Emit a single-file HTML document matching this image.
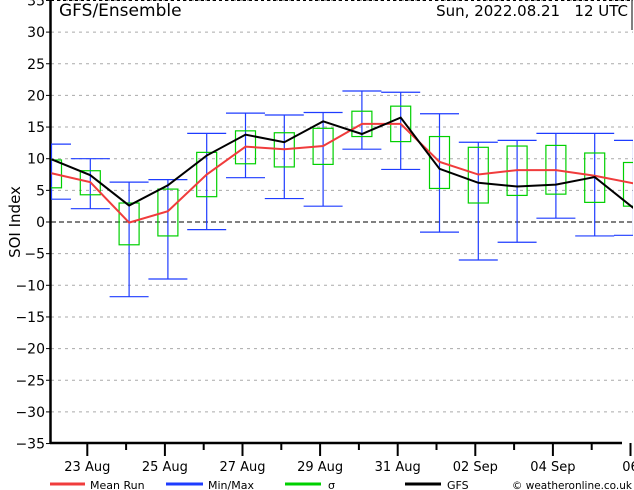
<!DOCTYPE html>
<html><head><meta charset="utf-8"><style>
body{margin:0;background:#fff}
svg{display:block;font-family:"DejaVu Sans","Liberation Sans",sans-serif}
</style></head><body>
<svg id="chart" width="634" height="490" viewBox="0 0 634 490" xmlns="http://www.w3.org/2000/svg">
<defs><clipPath id="plotclip"><rect x="51" y="0" width="582" height="443"/></clipPath></defs>
<g id="grid"></g>
<g id="yaxis"></g>
<g id="xaxis"></g>
<g id="series" clip-path="url(#plotclip)"></g>
<text x="59" y="16" font-size="17">GFS/Ensemble</text>
<text x="628" y="16" font-size="15" text-anchor="end" style="white-space:pre">Sun, 2022.08.21   12 UTC</text>
<text transform="translate(20,222) rotate(-90)" font-size="15" text-anchor="middle">SOI Index</text>
<g font-size="11">
<g><line x1="50" y1="484" x2="85" y2="484" stroke="#f03c3c" stroke-width="3"/><text x="90" y="489">Mean Run</text></g>
<g><line x1="166" y1="484" x2="203" y2="484" stroke="#1e3cff" stroke-width="3"/><text x="208" y="489">Min/Max</text></g>
<g><line x1="285" y1="484" x2="321" y2="484" stroke="#00d000" stroke-width="3"/><text x="328" y="489">σ</text></g>
<g><line x1="405" y1="484" x2="441" y2="484" stroke="#000" stroke-width="3"/><text x="447" y="489">GFS</text></g>
<text x="632" y="489" text-anchor="end" font-size="10.5">© weatheronline.co.uk</text>
</g>
</svg>
<script>
const mins=[3.6,2.1,-11.8,-9.0,-1.2,7.0,3.7,2.5,11.5,8.3,-1.6,-6.0,-3.2,0.6,-2.2,-2.1];
const maxs=[12.3,10.0,6.3,6.7,14.0,17.2,16.9,17.3,20.7,20.5,17.1,12.6,12.9,14.0,14.0,12.9];
const sigHi=[9.8,8.1,3.0,5.2,11.0,14.4,14.1,14.8,17.5,18.3,13.5,11.8,12.0,12.1,10.9,9.4];
const sigLo=[5.4,4.3,-3.6,-2.2,4.0,9.2,8.7,9.1,13.5,12.7,5.3,3.0,4.2,4.4,3.1,2.5];
const meanRun=[7.7,6.3,-0.1,1.7,7.5,11.9,11.5,12.0,15.5,15.5,9.5,7.5,8.2,8.2,7.3,6.1];
const gfs=[9.9,7.4,2.6,5.8,10.5,13.8,12.6,15.9,13.9,16.5,8.4,6.2,5.6,5.9,7.1,2.2];
const yTicks=[-35,-30,-25,-20,-15,-10,-5,0,5,10,15,20,25,30,35];
const xLabels=["23 Aug","25 Aug","27 Aug","29 Aug","31 Aug","02 Sep","04 Sep","06"];
const NS="http://www.w3.org/2000/svg";
const X=i=>51.5+38.8*i;
const Y=v=>222-v*6.33;
function mk(tag,attrs,parent){const e=document.createElementNS(NS,tag);for(const k in attrs)e.setAttribute(k,attrs[k]);parent.appendChild(e);return e;}
const grid=document.getElementById('grid'),ya=document.getElementById('yaxis'),xa=document.getElementById('xaxis'),se=document.getElementById('series');
yTicks.forEach(v=>{
 const y=Y(v);
 if(v!==0&&v>-35){const l=mk('line',{x1:51,x2:633,y1:y,y2:y,stroke:'#aaa','stroke-dasharray':'3,4'},grid);
 
 }
 const t=mk('text',{x:45,y:y+5,'font-size':14,'text-anchor':'end'},ya);t.textContent=(v<0?'−':'')+Math.abs(v);
 
 
 mk('line',{x1:46,x2:51,y1:y,y2:y,stroke:'#000'},ya);
});
const z=mk('line',{x1:51,x2:633,y1:Y(0),y2:Y(0),stroke:'#000','stroke-dasharray':'5,3'},grid);


mk('line',{x1:51,x2:633,y1:0.5,y2:0.5,stroke:'#000','stroke-dasharray':'3,3'},grid);
mk('line',{x1:50.5,x2:50.5,y1:0,y2:444,stroke:'#000','stroke-width':2.5},ya);
mk('line',{x1:632,x2:632,y1:0,y2:30,stroke:'#000'},ya);
mk('line',{x1:50,x2:622,y1:443,y2:443,stroke:'#000','stroke-width':2.5},xa);
for(let i=1;i<=15;i++){const x=X(i)-3;const maj=i%2===1;
 mk('line',{x1:x,x2:x,y1:443,y2:maj?456:450,stroke:'#000','stroke-width':2},xa);
 if(maj){const t=mk('text',{x:x,y:471,'font-size':13,'text-anchor':'middle'},xa);t.textContent=xLabels[(i-1)/2];
 
 }
}
for(let i=0;i<mins.length;i++){const x=X(i);
 const g=mk('g',{},se);
 
 
 mk('line',{x1:x,x2:x,y1:Y(maxs[i]),y2:Y(mins[i]),stroke:'#1e3cff','stroke-width':1.2},g);
 mk('line',{x1:x-19.5,x2:x+19.5,y1:Y(maxs[i]),y2:Y(maxs[i]),stroke:'#1e3cff','stroke-width':1.2},g);
 mk('line',{x1:x-19.5,x2:x+19.5,y1:Y(mins[i]),y2:Y(mins[i]),stroke:'#1e3cff','stroke-width':1.2},g);
 mk('rect',{x:x-10,y:Y(sigHi[i]),width:20,height:Y(sigLo[i])-Y(sigHi[i]),fill:'none',stroke:'#00d000','stroke-width':1.2},g);
}
const mr=mk('polyline',{points:meanRun.map((v,i)=>X(i)+','+Y(v)).join(' '),fill:'none',stroke:'#f03c3c','stroke-width':2},se);


const gl=mk('polyline',{points:gfs.map((v,i)=>X(i)+','+Y(v)).join(' '),fill:'none',stroke:'#000','stroke-width':2},se);


</script>
</body></html>
